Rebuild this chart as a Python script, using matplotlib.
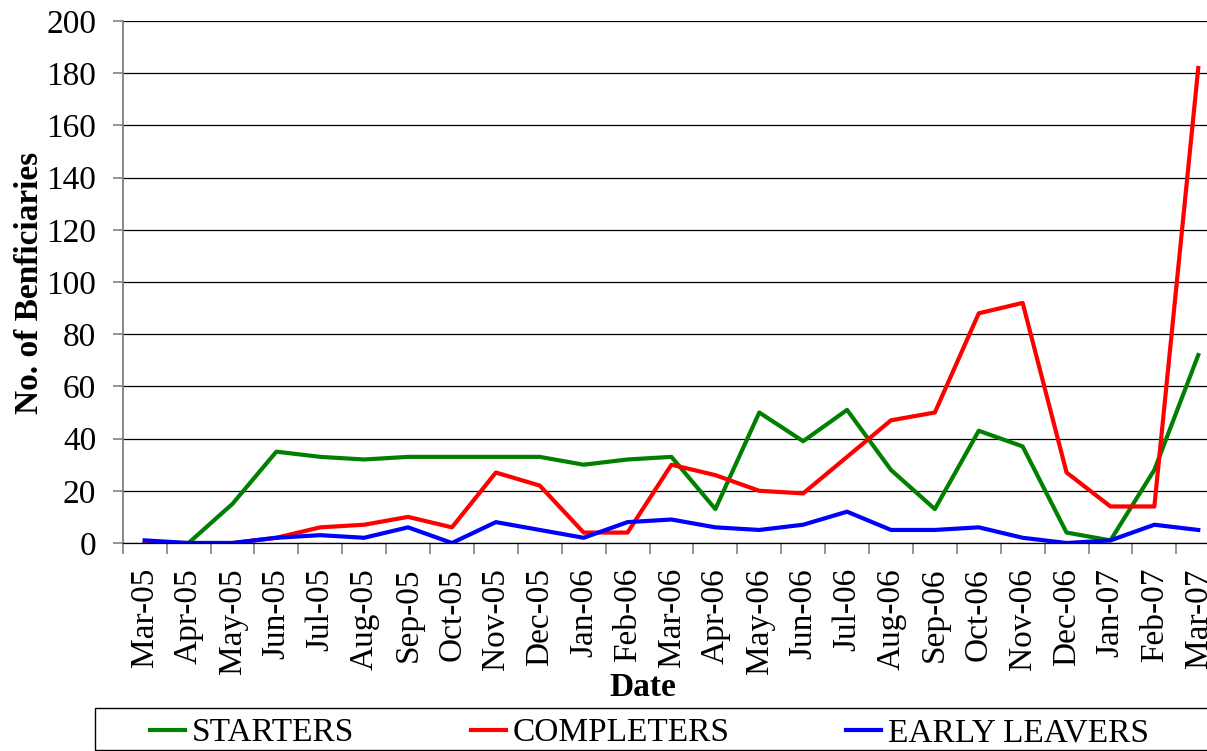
import numpy as np
import matplotlib.pyplot as plt
from matplotlib.patches import Rectangle

plt.rcParams['font.family'] = ['Liberation Serif', 'DejaVu Serif']

months = ['Mar-05', 'Apr-05', 'May-05', 'Jun-05', 'Jul-05', 'Aug-05', 'Sep-05',
          'Oct-05', 'Nov-05', 'Dec-05', 'Jan-06', 'Feb-06', 'Mar-06', 'Apr-06',
          'May-06', 'Jun-06', 'Jul-06', 'Aug-06', 'Sep-06', 'Oct-06', 'Nov-06',
          'Dec-06', 'Jan-07', 'Feb-07', 'Mar-07']
starters = [np.nan, 0, 15, 35, 33, 32, 33, 33, 33, 33, 30, 32, 33, 13, 50, 39, 51,
            28, 13, 43, 37, 4, 1, 28, 72]
completers = [0, 0, 0, 2, 6, 7, 10, 6, 27, 22, 4, 4, 30, 26, 20, 19, 33, 47, 50,
              88, 92, 27, 14, 14, 182]
early_leavers = [1, 0, 0, 2, 3, 2, 6, 0, 8, 5, 2, 8, 9, 6, 5, 7, 12, 5, 5, 6, 2,
                 0, 1, 7, 5]

W, H = 1207, 751
fig = plt.figure(figsize=(W / 100, H / 100), dpi=100)
ax = fig.add_axes([122.7 / W, 1 - 543 / H, 1097.5 / W, 522 / H])

x = np.arange(len(months))
l1, = ax.plot(x, starters, color='#008000', lw=3, label='STARTERS')
l2, = ax.plot(x, completers, color='#ff0000', lw=3, label='COMPLETERS')
l3, = ax.plot(x, early_leavers, color='#0000ff', lw=3, label='EARLY LEAVERS')

ax.set_xlim(-0.5, len(months) - 0.5)
ax.set_ylim(0, 200)
ax.set_yticks(range(0, 201, 20))
ax.yaxis.grid(True, color='black', lw=0.9)
ax.set_axisbelow(True)

ax.set_xticks(x)
ax.set_xticklabels(months, rotation=90, fontsize=24)
ax.set_xticks(np.arange(-0.5, len(months), 1), minor=True)
ax.tick_params(axis='x', which='major', length=0, pad=18)
ax.tick_params(axis='x', which='minor', length=8, color='#808080', width=1.2)
ax.tick_params(axis='y', labelsize=24, length=7, color='#808080', width=1.2, pad=12)

for s in ['top', 'right']:
    ax.spines[s].set_visible(False)
ax.spines['left'].set_color('#808080')
ax.spines['left'].set_linewidth(1.3)
ax.spines['bottom'].set_color('black')
ax.spines['bottom'].set_linewidth(0.9)

fig.text(643 / W, 1 - 688 / H, 'Date', fontsize=24, fontweight='bold',
         ha='center', va='center')
fig.text(30 / W, 1 - 283 / H, 'No. of Benficiaries', fontsize=24,
         fontweight='bold', rotation=90, ha='center', va='center')

# legend box along the bottom
fig.patches.append(Rectangle((95 / W, 1 - 749.5 / H), 1.2, (749.5 - 708) / H,
                             transform=fig.transFigure, fill=False,
                             edgecolor='black', lw=1.0))
fig.legend(handles=[l1, l2, l3], loc='center left', ncol=3, frameon=False,
           bbox_to_anchor=(150 / W, 1 - 733 / H), fontsize=24,
           handlelength=1.05, handletextpad=0.2, columnspacing=3.5,
           borderpad=0, borderaxespad=0)

fig.savefig('out.png', dpi=100)
